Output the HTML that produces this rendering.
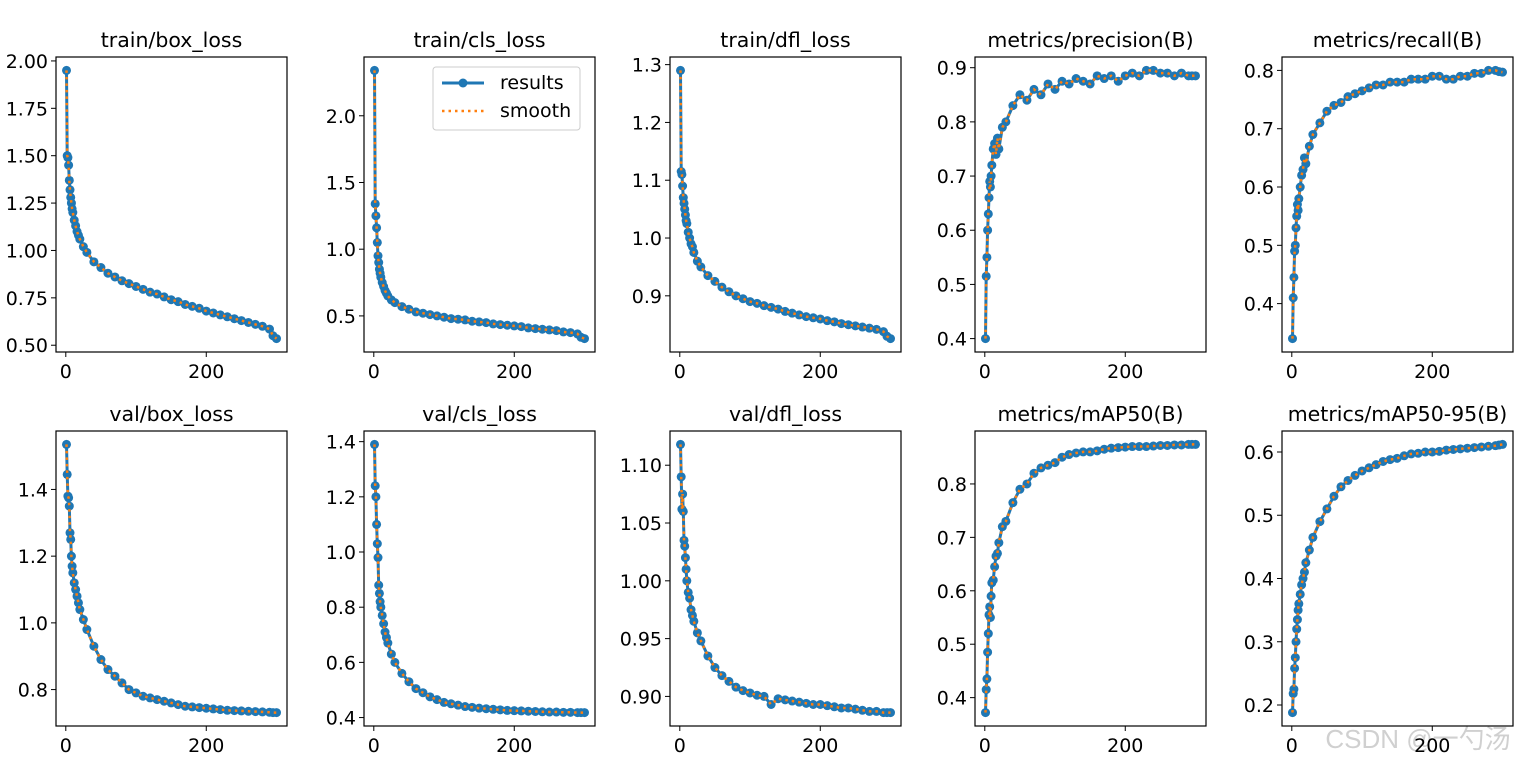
<!DOCTYPE html>
<html><head><meta charset="utf-8">
<style>
html,body{margin:0;padding:0;background:#fff;}
svg{display:block;font-family:"DejaVu Sans","Liberation Sans",sans-serif;}
</style></head>
<body>
<svg id="fig" width="1523" height="764" viewBox="0 0 1523 764" xmlns="http://www.w3.org/2000/svg">
<rect width="1523" height="764" fill="#fff"/>
<text x="1418" y="748" font-size="26" fill="#d0d0d0" text-anchor="middle" font-family="Liberation Sans, Noto Sans CJK SC, sans-serif">CSDN @一勺汤</text>
</svg>
<script>
const epochs = [1,2,3,4,5,6,7,8,9,10,12,14,16,18,20,25,30,40,50,60,70,80,90,100,110,120,130,140,150,160,170,180,190,200,210,220,230,240,250,260,270,280,290,295,300];
const xTicks = [0,200];
const titles = ["train/box_loss","train/cls_loss","train/dfl_loss","metrics/precision(B)","metrics/recall(B)","val/box_loss","val/cls_loss","val/dfl_loss","metrics/mAP50(B)","metrics/mAP50-95(B)"];
const trainBox = [1.95,1.50,1.49,1.45,1.37,1.32,1.28,1.25,1.22,1.20,1.16,1.13,1.10,1.08,1.06,1.02,0.99,0.94,0.91,0.88,0.86,0.84,0.825,0.81,0.795,0.78,0.77,0.755,0.74,0.73,0.715,0.705,0.695,0.68,0.67,0.66,0.65,0.64,0.63,0.62,0.61,0.60,0.585,0.55,0.535];
const trainCls = [2.34,1.34,1.25,1.16,1.05,0.95,0.90,0.85,0.82,0.79,0.75,0.72,0.69,0.67,0.65,0.62,0.60,0.57,0.55,0.53,0.52,0.51,0.50,0.49,0.48,0.475,0.47,0.46,0.455,0.45,0.44,0.435,0.43,0.425,0.42,0.41,0.405,0.40,0.395,0.39,0.38,0.375,0.365,0.34,0.33];
const trainDfl = [1.29,1.115,1.11,1.09,1.07,1.06,1.05,1.04,1.03,1.025,1.01,1.0,0.99,0.985,0.975,0.96,0.95,0.935,0.925,0.915,0.907,0.90,0.895,0.89,0.887,0.883,0.88,0.877,0.873,0.87,0.867,0.864,0.862,0.86,0.857,0.855,0.852,0.85,0.848,0.846,0.844,0.842,0.838,0.83,0.826];
const precision = [0.40,0.515,0.55,0.60,0.63,0.66,0.69,0.68,0.70,0.72,0.75,0.76,0.74,0.77,0.75,0.79,0.80,0.83,0.85,0.84,0.86,0.85,0.87,0.86,0.875,0.87,0.88,0.875,0.87,0.885,0.88,0.885,0.875,0.885,0.89,0.885,0.895,0.895,0.89,0.89,0.885,0.89,0.885,0.885,0.885];
const recall = [0.34,0.41,0.445,0.49,0.50,0.53,0.55,0.57,0.56,0.58,0.60,0.62,0.63,0.65,0.64,0.67,0.69,0.71,0.73,0.74,0.745,0.755,0.76,0.765,0.77,0.775,0.775,0.78,0.78,0.78,0.785,0.785,0.785,0.79,0.79,0.785,0.785,0.79,0.79,0.795,0.795,0.80,0.80,0.798,0.797];
const valBox = [1.535,1.445,1.38,1.375,1.35,1.27,1.25,1.20,1.17,1.15,1.12,1.10,1.08,1.06,1.04,1.01,0.98,0.93,0.89,0.86,0.84,0.82,0.80,0.79,0.78,0.775,0.77,0.765,0.76,0.755,0.75,0.748,0.746,0.744,0.742,0.74,0.738,0.737,0.736,0.735,0.734,0.733,0.732,0.731,0.731];
const valCls = [1.39,1.24,1.20,1.10,1.03,0.98,0.88,0.85,0.82,0.80,0.77,0.74,0.71,0.69,0.67,0.63,0.60,0.56,0.53,0.505,0.49,0.475,0.465,0.455,0.45,0.445,0.44,0.437,0.434,0.432,0.43,0.428,0.426,0.425,0.424,0.423,0.422,0.421,0.42,0.42,0.419,0.419,0.418,0.418,0.418];
const valDfl = [1.118,1.09,1.062,1.075,1.06,1.035,1.03,1.02,1.01,1.0,0.99,0.985,0.975,0.97,0.965,0.955,0.948,0.935,0.925,0.918,0.913,0.908,0.905,0.903,0.901,0.90,0.893,0.898,0.897,0.896,0.895,0.894,0.893,0.893,0.892,0.891,0.89,0.89,0.889,0.888,0.887,0.887,0.886,0.886,0.886];
const map50 = [0.372,0.415,0.435,0.485,0.52,0.555,0.57,0.55,0.59,0.615,0.62,0.645,0.665,0.67,0.69,0.72,0.73,0.765,0.79,0.80,0.82,0.83,0.835,0.84,0.85,0.855,0.858,0.86,0.86,0.862,0.865,0.867,0.868,0.869,0.87,0.87,0.87,0.871,0.872,0.872,0.873,0.873,0.874,0.874,0.874];
const map5095 = [0.188,0.218,0.225,0.258,0.275,0.30,0.32,0.335,0.35,0.36,0.375,0.39,0.40,0.41,0.425,0.445,0.465,0.49,0.51,0.53,0.545,0.555,0.563,0.57,0.575,0.58,0.585,0.588,0.59,0.594,0.597,0.598,0.60,0.60,0.601,0.603,0.604,0.605,0.606,0.607,0.608,0.609,0.61,0.611,0.612];
const yTicks = [
 ["0.50","0.75","1.00","1.25","1.50","1.75","2.00"],
 ["0.5","1.0","1.5","2.0"],
 ["0.9","1.0","1.1","1.2","1.3"],
 ["0.4","0.5","0.6","0.7","0.8","0.9"],
 ["0.4","0.5","0.6","0.7","0.8"],
 ["0.8","1.0","1.2","1.4"],
 ["0.4","0.6","0.8","1.0","1.2","1.4"],
 ["0.90","0.95","1.00","1.05","1.10"],
 ["0.4","0.5","0.6","0.7","0.8"],
 ["0.2","0.3","0.4","0.5","0.6"]
];
const series = [trainBox,trainCls,trainDfl,precision,recall,valBox,valCls,valDfl,map50,map5095];

const NS="http://www.w3.org/2000/svg";
const svg=document.getElementById('fig');
const lefts=[56,364,670,975,1282], tops=[57,431], W=231, H=295;
function mk(tag,attrs,parent){const e=document.createElementNS(NS,tag);for(const k in attrs)e.setAttribute(k,attrs[k]);(parent||svg).appendChild(e);return e;}
function slug(s){return s.replace(/[^a-zA-Z0-9]+/g,'-').replace(/-+$/,'').toLowerCase();}

series.forEach((vals,i)=>{
  const L=lefts[i%5], T=tops[Math.floor(i/5)];
  const g=mk('g',{});
  
  
  const x0=epochs[0], x1=epochs[epochs.length-1], xm=(x1-x0)*0.05;
  const xs=v=>L+(v-(x0-xm))/((x1+xm)-(x0-xm))*W;
  const mn=Math.min(...vals), mx=Math.max(...vals), ym=(mx-mn)*0.05;
  const ys=v=>T+H-(v-(mn-ym))/((mx+ym)-(mn-ym))*H;
  const t=mk('text',{x:L+W/2,y:T-10,'font-size':20.5,'text-anchor':'middle',fill:'#000'},g);
  t.textContent=titles[i];
  
  
  xTicks.forEach(v=>{const x=xs(v);
    mk('line',{x1:x,x2:x,y1:T+H,y2:T+H+5,stroke:'#000','stroke-width':1},g);
    const tx=mk('text',{x:x,y:T+H+26,'font-size':19,'text-anchor':'middle'},g);tx.textContent=v;
    
    });
  yTicks[i].forEach(s=>{const y=ys(parseFloat(s));
    mk('line',{x1:L-5,x2:L,y1:y,y2:y,stroke:'#000','stroke-width':1},g);
    const ty=mk('text',{x:L-8,y:y+7,'font-size':19,'text-anchor':'end'},g);ty.textContent=s;
    
    });
  const pts=epochs.map((e,k)=>xs(e).toFixed(1)+','+ys(vals[k]).toFixed(1)).join(' ');
  const pl=mk('polyline',{points:pts,fill:'none',stroke:'#1f77b4','stroke-width':3,'stroke-linejoin':'round'},g);
  
  
  epochs.forEach((e,k)=>{const c=mk('circle',{cx:xs(e),cy:ys(vals[k]),r:4.5,fill:'#1f77b4'},g);
    
    });
  const sm=mk('polyline',{points:pts,fill:'none',stroke:'#ff7f0e','stroke-width':2.5,'stroke-dasharray':'2.5 4'},g);
  
  
  const fr=mk('rect',{x:L,y:T,width:W,height:H,fill:'none',stroke:'#000','stroke-width':1.2},g);
  
  
});
const lg=mk('g',{});


mk('rect',{x:433,y:67,width:147,height:63,rx:3,fill:'#fff','fill-opacity':0.8,stroke:'#ccc','stroke-width':1},lg);
mk('line',{x1:442,x2:484,y1:83,y2:83,stroke:'#1f77b4','stroke-width':3},lg);
mk('circle',{cx:463,cy:83,r:4.5,fill:'#1f77b4'},lg);
const l1=mk('text',{x:500,y:89,'font-size':19},lg);l1.textContent='results';


mk('line',{x1:442,x2:484,y1:111,y2:111,stroke:'#ff7f0e','stroke-width':2.5,'stroke-dasharray':'2.5 4'},lg);
const l2=mk('text',{x:500,y:117,'font-size':19},lg);l2.textContent='smooth';


</script>
</body></html>
